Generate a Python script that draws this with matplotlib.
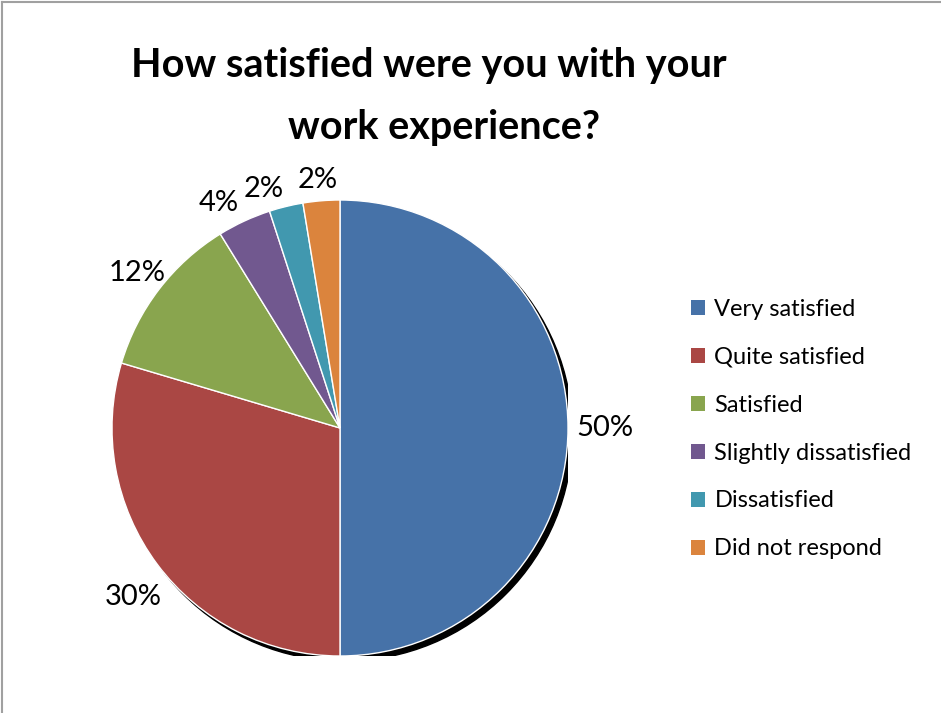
import matplotlib
matplotlib.use('Agg')
import matplotlib.pyplot as plt
from matplotlib.lines import Line2D
from matplotlib.patches import Circle
import numpy as np

# data
categories = ['Very satisfied', 'Quite satisfied', 'Satisfied',
              'Slightly dissatisfied', 'Dissatisfied', 'Did not respond']
shares = [50.0, 29.6, 11.6, 3.8, 2.4, 2.6]
pct_labels = ['50%', '30%', '12%', '4%', '2%', '2%']
colors = ['#4672a8', '#aa4744', '#89a54e', '#71588f', '#4198af', '#db843d']

plt.rcParams['font.family'] = ['Lato', 'DejaVu Sans']

W, H = 941, 713
fig = plt.figure(figsize=(W / 100, H / 100), dpi=100)

# pie centre and radius in pixels
cx, cy, r = 340, 428, 228
ax = fig.add_axes([(cx - r) / W, (H - cy - r) / H, 2 * r / W, 2 * r / H])

# black drop shadow behind the pie
ax.add_patch(Circle((0.02, -0.022), 1.0, facecolor='black', edgecolor='black',
                    lw=1, zorder=0))

wedges, _ = ax.pie(shares, colors=colors, startangle=90, counterclock=False,
                   radius=1.0, wedgeprops=dict(edgecolor='white', linewidth=1),
                   frame=True)
for w in wedges:
    w.set_zorder(1)
ax.set_xlim(-1, 1)
ax.set_ylim(-1, 1)
ax.set_aspect('equal')
ax.axis('off')

# percentage labels outside each slice (distance, small angular nudge)
start = 90.0
dist = [1.16, 1.17, 1.12, 1.12, 1.10, 1.09]
nudge = [0, 2.5, 0, 3.5, 4.0, 0.5]
for val, lab, d, n in zip(shares, pct_labels, dist, nudge):
    mid = np.deg2rad(start - val / 100 * 360 / 2 + n)
    start -= val / 100 * 360
    ax.text(d * np.cos(mid), d * np.sin(mid), lab, ha='center', va='center',
            fontsize=21, color='black', clip_on=False)

fig.text(429 / W, 1 - 66 / H, 'How satisfied were you with your',
         ha='center', va='center', fontsize=28.5, fontweight='bold')
fig.text(444 / W, 1 - 128 / H, 'work experience?',
         ha='center', va='center', fontsize=28.5, fontweight='bold')

leg = fig.legend(wedges, categories, loc='upper left',
                 bbox_to_anchor=(679 / W, 1 - 287 / H), frameon=False,
                 fontsize=17, handlelength=0.6, handleheight=0.6,
                 handletextpad=0.4, labelspacing=1.14, borderpad=0)
for h in leg.legend_handles:
    h.set_edgecolor('none')

# outer frame (top and left edges visible)
fig.add_artist(Line2D([2 / W, 2 / W], [0, 1 - 1.5 / H], color='#a0a0a0', lw=1.5))
fig.add_artist(Line2D([2 / W, 1], [1 - 1.5 / H, 1 - 1.5 / H], color='#a0a0a0', lw=1.5))

fig.savefig('out.png', dpi=100)
